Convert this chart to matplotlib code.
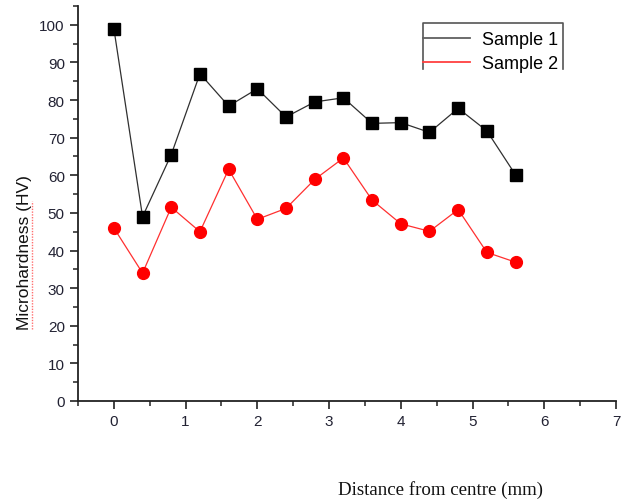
import numpy as np
import matplotlib
matplotlib.use('Agg')
import matplotlib.pyplot as plt
from matplotlib.lines import Line2D
from matplotlib.ticker import MultipleLocator

distance = [0, 0.4, 0.8, 1.2, 1.6, 2.0, 2.4, 2.8, 3.2, 3.6, 4.0, 4.4, 4.8, 5.2, 5.6]
sample1 = [99.0, 49.0, 65.5, 87.0, 78.4, 83.0, 75.5, 79.5, 80.6, 73.8, 74.0, 71.4, 77.8, 71.8, 60.1]
sample2 = [46.0, 34.0, 51.5, 45.0, 61.6, 48.3, 51.2, 58.9, 64.6, 53.4, 47.1, 45.1, 50.9, 39.5, 36.9]

plt.rcParams['font.family'] = ['Liberation Sans', 'DejaVu Sans']

fig = plt.figure(figsize=(6.32, 5.02), dpi=100)
ax = fig.add_axes([78 / 632, 1 - 402 / 502, (616 - 78) / 632, (402 - 7) / 502])

ax.plot(distance, sample1, color='#303030', lw=0.9, marker='s', ms=8,
        mfc='black', mec='black', label='Sample 1')
ax.plot(distance, sample2, color='#ff3030', lw=0.9, marker='o', ms=8.5,
        mfc='#ff0000', mec='#ff0000', label='Sample 2')

ax.set_xlim(-0.5, 7)
ax.set_ylim(0, 105)
ax.xaxis.set_major_locator(MultipleLocator(1))
ax.xaxis.set_minor_locator(MultipleLocator(0.5))
ax.yaxis.set_major_locator(MultipleLocator(10))
ax.yaxis.set_minor_locator(MultipleLocator(5))
for s in ['top', 'right']:
    ax.spines[s].set_visible(False)
for s in ['left', 'bottom']:
    ax.spines[s].set_linewidth(1.3)
    ax.spines[s].set_color('#222222')
ax.tick_params(which='major', direction='out', length=5.5, width=1.2,
               labelsize=11, labelcolor='#222233', color='#222222', pad=4)
ax.tick_params(which='minor', direction='out', length=3.5, width=1.1, color='#222222')

fig.text(25 / 632, 1 - 253 / 502, 'Microhardness (HV)', rotation=90,
         ha='center', va='center', fontsize=12.5, color='#111111')
# spell-check squiggle under "Microhardness"
fig.add_artist(Line2D([32 / 632, 32 / 632], [1 - 330 / 502, 1 - 202 / 502],
                      transform=fig.transFigure, color='#ff7070', lw=1.0, ls=(0, (1, 1))))
fig.text(440 / 632, 1 - 490 / 502, 'Distance from centre (mm)',
         family='Liberation Serif', fontsize=13.6, ha='center', va='center',
         color='#111111')

handles = [Line2D([], [], color='#606060', lw=1.3),
           Line2D([], [], color='#ff4040', lw=1.3)]
leg = fig.legend(handles, ['Sample 1', 'Sample 2'], loc='upper left',
                 bbox_to_anchor=(423 / 632, 1 - 32 / 502), frameon=False,
                 fontsize=13, borderpad=0, borderaxespad=0, labelspacing=0.4,
                 handlelength=2.6, handletextpad=0.65)

# legend frame, open at the bottom
fx = [423 / 632, 423 / 632, 563 / 632, 563 / 632]
fy = [1 - 70 / 502, 1 - 24 / 502, 1 - 24 / 502, 1 - 70 / 502]
fig.add_artist(Line2D(fx, fy, transform=fig.transFigure, color='#555555', lw=1.2))

plt.savefig('out.png', dpi=100)
